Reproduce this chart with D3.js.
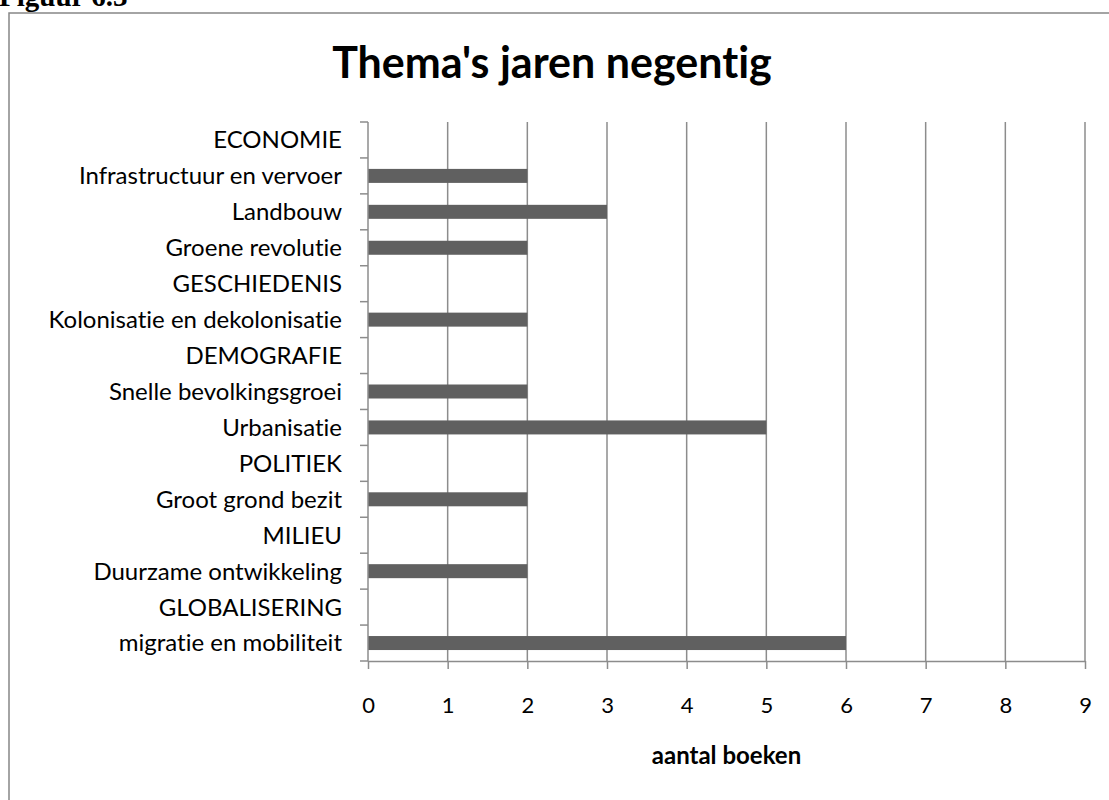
<!DOCTYPE html>
<html>
<head>
<meta charset="utf-8">
<script src="https://cdn.jsdelivr.net/npm/d3@7"></script>
<style>
  body { margin: 0; background: #fff; }
  svg { display: block; }
  text { font-variant-ligatures: none; }
</style>
</head>
<body>
<div id="chart"></div>
<script>
// categories top to bottom, headers have no bar
var categories = ["ECONOMIE", "Infrastructuur en vervoer", "Landbouw", "Groene revolutie",
    "GESCHIEDENIS", "Kolonisatie en dekolonisatie", "DEMOGRAFIE", "Snelle bevolkingsgroei",
    "Urbanisatie", "POLITIEK", "Groot grond bezit", "MILIEU", "Duurzame ontwikkeling",
    "GLOBALISERING", "migratie en mobiliteit"];
var values = [0, 2, 3, 2, 0, 2, 0, 2, 5, 0, 2, 0, 2, 0, 6];
var xTicks = [0, 1, 2, 3, 4, 5, 6, 7, 8, 9];

var width = 1109, height = 800;
var font = "Lato, 'Open Sans', sans-serif";
var gray = "#8c8c8c";

var svg = d3.select("#chart").append("svg")
    .attr("width", width)
    .attr("height", height);

// caption above the frame, mostly cut off in the original too
svg.append("text")
    .attr("x", -1)
    .attr("y", 6)
    .style("font-family", "'Liberation Serif', serif")
    .style("font-weight", "bold")
    .style("font-size", "29px")
    .text("Figuur 6.3");

// chart frame
svg.append("rect")
    .attr("x", 9)
    .attr("y", 13)
    .attr("width", 1120)
    .attr("height", 820)
    .style("fill", "#fff")
    .style("stroke", "#878787")
    .style("stroke-width", 1.5);

var margin = {left: 368, right: 24, top: 122, bottom: 139};

var x = d3.scaleLinear()
    .domain([0, 9])
    .range([margin.left, width - margin.right]);

var y = d3.scaleBand()
    .domain(categories)
    .range([margin.top, height - margin.bottom]);

// gridlines
svg.append("g")
    .selectAll("line")
    .data(xTicks.slice(1))
    .enter()
    .append("line")
    .attr("x1", function(d) { return x(d); })
    .attr("x2", function(d) { return x(d); })
    .attr("y1", y.range()[0])
    .attr("y2", y.range()[1])
    .style("stroke", gray)
    .style("stroke-width", 1.5);

// bars
var barH = 14;
svg.append("g")
    .selectAll("rect")
    .data(categories)
    .enter()
    .append("rect")
    .attr("x", x(0))
    .attr("y", function(d) { return y(d) + y.bandwidth() / 2 - barH / 2; })
    .attr("width", function(d, i) { return x(values[i]) - x(0); })
    .attr("height", barH)
    .style("fill", "#606060");

// x axis
var xAxis = svg.append("g")
    .attr("transform", "translate(0," + y.range()[1] + ")")
    .call(d3.axisBottom(x).tickValues(xTicks).tickSize(8).tickPadding(28).tickSizeOuter(0));
xAxis.select(".domain").style("stroke", gray).style("stroke-width", 1.5);
xAxis.selectAll(".tick line").style("stroke", gray).style("stroke-width", 1.5);
xAxis.selectAll("text")
    .style("font-family", font)
    .style("font-size", "22px")
    .style("fill", "#000");

// y axis: ticks at band boundaries
var yAxis = svg.append("g");
yAxis.append("line")
    .attr("x1", x(0)).attr("x2", x(0))
    .attr("y1", y.range()[0]).attr("y2", y.range()[1])
    .style("stroke", gray)
    .style("stroke-width", 1.5);
yAxis.selectAll(".ytick")
    .data(d3.range(categories.length + 1))
    .enter()
    .append("line")
    .attr("class", "ytick")
    .attr("x1", x(0) - 8).attr("x2", x(0))
    .attr("y1", function(i) { return y.range()[0] + i * y.step(); })
    .attr("y2", function(i) { return y.range()[0] + i * y.step(); })
    .style("stroke", gray)
    .style("stroke-width", 1.5);
yAxis.selectAll("text")
    .data(categories)
    .enter()
    .append("text")
    .attr("x", 342)
    .attr("y", function(d) { return y(d) + y.bandwidth() / 2; })
    .attr("dy", "0.35em")
    .attr("text-anchor", "end")
    .style("font-family", font)
    .style("font-size", "24px")
    .text(function(d) { return d; });

// title
svg.append("text")
    .attr("x", 552)
    .attr("y", 78)
    .attr("text-anchor", "middle")
    .style("font-family", font)
    .style("font-weight", "bold")
    .style("font-size", "43px")
    .text("Thema's jaren negentig");

// x axis title
svg.append("text")
    .attr("x", (x(0) + x(9)) / 2)
    .attr("y", 764)
    .attr("text-anchor", "middle")
    .style("font-family", font)
    .style("font-weight", "bold")
    .style("font-size", "24px")
    .text("aantal boeken");
</script>
</body>
</html>
